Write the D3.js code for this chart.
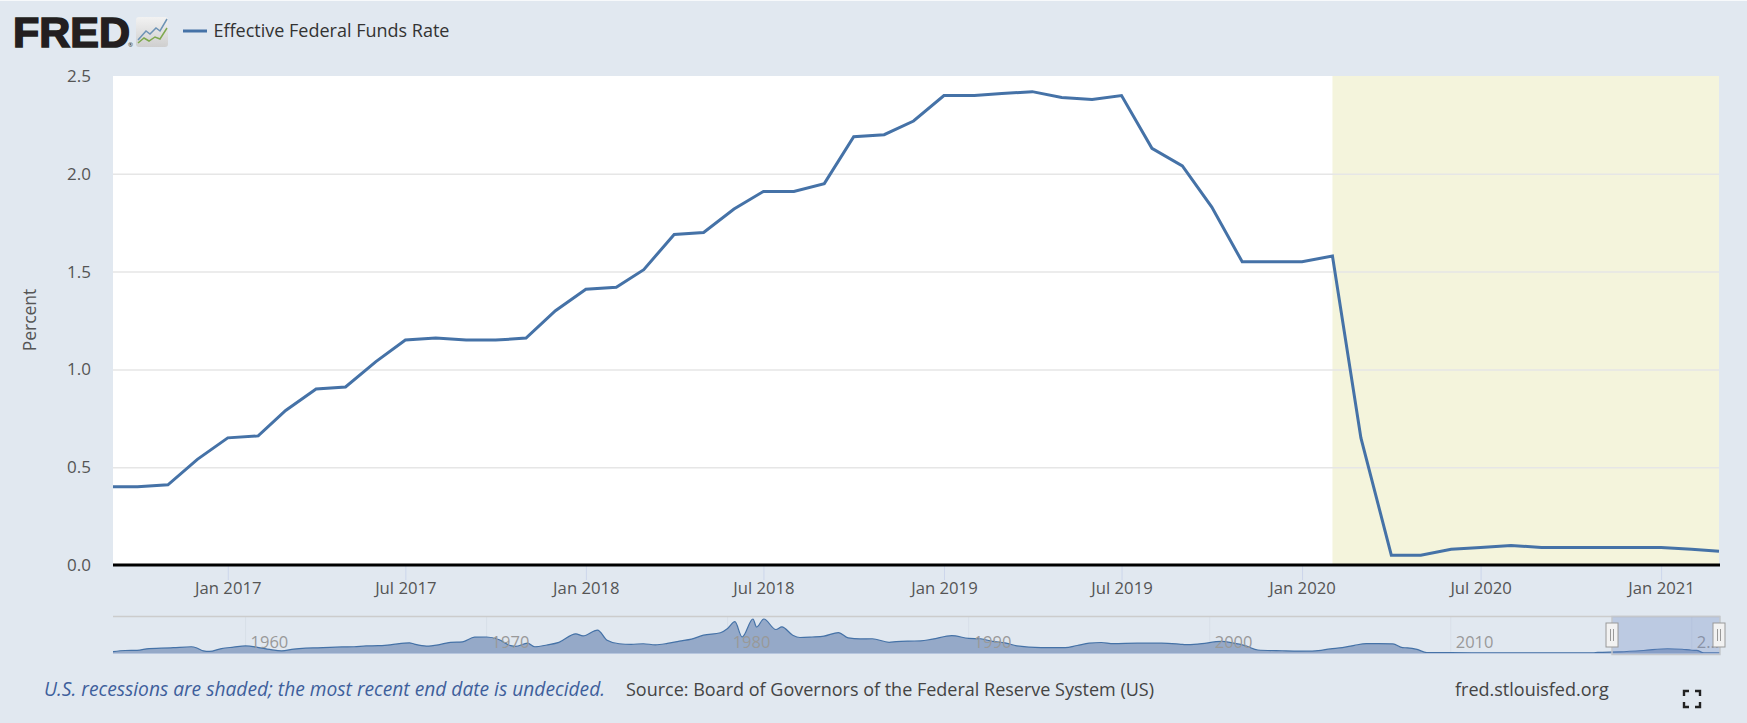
<!DOCTYPE html>
<html>
<head>
<meta charset="utf-8">
<script src="https://cdn.jsdelivr.net/npm/d3@7/dist/d3.min.js"></script>
<style>
html,body{margin:0;padding:0;background:#e1e8f0;}
svg{display:block;font-family:"Open Sans",sans-serif;}
</style>
</head>
<body>
<svg id="chart" width="1747" height="723"></svg>
<script>
const seriesName = "Effective Federal Funds Rate";
const months = ["2016-09","2016-10","2016-11","2016-12",
"2017-01","2017-02","2017-03","2017-04","2017-05","2017-06","2017-07","2017-08","2017-09","2017-10","2017-11","2017-12",
"2018-01","2018-02","2018-03","2018-04","2018-05","2018-06","2018-07","2018-08","2018-09","2018-10","2018-11","2018-12",
"2019-01","2019-02","2019-03","2019-04","2019-05","2019-06","2019-07","2019-08","2019-09","2019-10","2019-11","2019-12",
"2020-01","2020-02","2020-03","2020-04","2020-05","2020-06","2020-07","2020-08","2020-09","2020-10","2020-11","2020-12",
"2021-01","2021-02","2021-03"];
const rates = [0.40,0.40,0.41,0.54,
0.65,0.66,0.79,0.90,0.91,1.04,1.15,1.16,1.15,1.15,1.16,1.30,
1.41,1.42,1.51,1.69,1.70,1.82,1.91,1.91,1.95,2.19,2.20,2.27,
2.40,2.40,2.41,2.42,2.39,2.38,2.40,2.13,2.04,1.83,1.55,1.55,
1.55,1.58,0.65,0.05,0.05,0.08,0.09,0.10,0.09,0.09,0.09,0.09,
0.09,0.08,0.07];
const yTicks = [0,0.5,1.0,1.5,2.0,2.5];
const xTicks = ["2017-01","2017-07","2018-01","2018-07","2019-01","2019-07","2020-01","2020-07","2021-01"];
const viewWindow = ["2016-09-06","2021-03-01"];
const recession = ["2020-02-01","2021-03-01"];

const navYears = [1954.5,1955,1955.5,1956,1956.5,1957,1957.75,1958,1958.25,1958.5,1959,1959.5,1960,1960.5,1961,1961.5,1962,1962.5,1963,1963.5,1964,1964.5,1965,1965.5,1966,1966.8,1967,1967.5,1968,1968.5,1969,1969.5,1970,1970.5,1971,1971.2,1971.7,1972,1972.5,1973,1973.7,1974,1974.6,1975,1975.5,1976,1976.5,1977,1977.5,1978,1978.5,1979,1979.7,1980,1980.3,1980.6,1981.05,1981.2,1981.5,1982,1982.25,1982.7,1983,1983.5,1984,1984.6,1985,1985.5,1986,1986.7,1987,1987.5,1988,1988.5,1989.3,1990,1990.5,1991,1991.5,1992,1993,1994,1994.5,1995,1995.5,1996,1997,1998,1998.8,1999,1999.5,2000.5,2001,2001.5,2002,2003,2003.5,2004,2004.5,2005,2005.5,2006,2006.5,2007,2007.6,2008,2008.2,2008.6,2009,2010,2012,2015.9,2016.1,2017,2018,2019,2019.6,2020,2020.2,2020.5,2021.17];
const navRates = [0.8,1.4,1.5,2.5,2.7,3.0,3.5,2.7,1.2,0.9,2.5,3.3,4.0,3.2,2.0,1.2,2.2,2.7,2.9,3.2,3.4,3.5,4.0,4.1,4.6,5.7,5.0,3.9,4.6,6.0,6.3,8.9,9.0,7.6,4.1,3.7,5.5,3.5,4.5,6.0,10.8,9.6,12.9,7.2,5.2,4.9,5.2,4.6,5.4,6.7,7.8,10.0,11.4,13.8,17.6,9.0,19.1,14.6,19.1,13.2,14.7,10.0,8.7,9.0,9.5,11.5,8.5,7.9,8.0,6.0,6.4,6.7,6.8,7.8,9.8,8.2,8.0,6.5,5.7,4.0,3.0,3.0,4.2,5.5,5.9,5.3,5.5,5.5,4.9,4.7,5.0,6.5,5.5,4.0,1.7,1.25,1.1,1.0,1.3,2.3,3.0,4.3,5.25,5.25,5.1,3.0,2.9,2.0,0.2,0.18,0.12,0.12,0.36,0.65,1.41,2.40,2.1,1.55,1.5,0.08,0.07];
const navGridYears = [1960,1970,1980,1990,2000,2010,2020];
const navLabels = ["1960","1970","1980","1990","2000","2010","2…"];

const recessionNote = "U.S. recessions are shaded; the most recent end date is undecided.";
const sourceNote = "Source: Board of Governors of the Federal Reserve System (US)";
const siteNote = "fred.stlouisfed.org";
const yTitle = "Percent";

const svg = d3.select("#chart");
const P = {l:113,r:1719,t:76,b:565};
const parse = d3.utcParse("%Y-%m");
const parseD = d3.utcParse("%Y-%m-%d");
const x = d3.scaleUtc().domain(viewWindow.map(parseD)).range([P.l,P.r]);
const y = d3.scaleLinear().domain([0,2.5]).range([P.b,P.t]);

svg.append("rect").attr("width",1747).attr("height",723).attr("fill","#e1e8f0");
svg.append("rect").attr("width",1747).attr("height",1).attr("fill","#f7f9fb");

// plot background and recession band
svg.append("rect").attr("x",P.l).attr("y",P.t).attr("width",P.r-P.l).attr("height",P.b-P.t).attr("fill","#fff");
svg.append("rect").attr("x",x(parseD(recession[0]))).attr("y",P.t)
  .attr("width",x(parseD(recession[1]))-x(parseD(recession[0]))).attr("height",P.b-P.t).attr("fill","#f4f4dc");

// y axis with gridlines
const gy = svg.append("g").attr("transform",`translate(${P.l},0)`)
  .call(d3.axisLeft(y).tickValues(yTicks).tickFormat(d3.format(".1f")).tickSize(-(P.r-P.l)).tickPadding(22));
gy.select(".domain").remove();
gy.selectAll("line").attr("stroke","#e6e6e6").attr("stroke-width",1.5);
gy.selectAll("text").attr("fill","#555").style("font-size","17px").style("font-family",'"Open Sans",sans-serif');
gy.selectAll(".tick").filter(d=>d===0||d===2.5).select("line").remove();

svg.append("text").attr("transform","translate(31,320) rotate(-90)").attr("text-anchor","middle")
  .attr("dominant-baseline","middle").attr("fill","#555").style("font-size","17.5px").text(yTitle);

// x axis
const gx = svg.append("g").attr("transform",`translate(0,${P.b})`)
  .call(d3.axisBottom(x).tickValues(xTicks.map(parse)).tickFormat(d3.utcFormat("%b %Y")).tickSize(15).tickPadding(2));
gx.select(".domain").remove();
gx.selectAll("line").attr("stroke","#ccd6eb").attr("stroke-width",1);
gx.selectAll("text").attr("fill","#555").style("font-size","16.7px").style("font-family",'"Open Sans",sans-serif');

// line
svg.append("clipPath").attr("id","plotClip").append("rect")
  .attr("x",P.l).attr("y",P.t-4).attr("width",P.r-P.l+1).attr("height",P.b-P.t+8);
const line = d3.line().x((d,i)=>x(parse(months[i]))).y(d=>y(d));
svg.append("path").datum(rates).attr("d",line).attr("fill","none").attr("stroke","#4572a7")
  .attr("stroke-width",3).attr("stroke-linejoin","miter").attr("clip-path","url(#plotClip)");

// zero baseline
svg.append("line").attr("x1",P.l).attr("x2",P.r+1).attr("y1",y(0)).attr("y2",y(0)).attr("stroke","#000").attr("stroke-width",3);

// navigator
const N = {l:113,r:1720,t:617,b:653};
const nx = d3.scaleLinear().domain([1954.5,2021.17]).range([N.l,N.r]);
const ny = d3.scaleLinear().domain([0,19.1]).range([N.b,619]);
const navG = svg.append("g");
navG.selectAll("line.grid").data(navGridYears).join("line").attr("class","grid")
  .attr("x1",d=>nx(d)).attr("x2",d=>nx(d)).attr("y1",N.t).attr("y2",N.b).attr("stroke","#d8dfe8").attr("stroke-width",1);
const navPts = navYears.map((t,i)=>[t,navRates[i]]);
navG.append("path").datum(navPts)
  .attr("d",d3.area().curve(d3.curveMonotoneX).x(d=>nx(d[0])).y0(N.b).y1(d=>ny(d[1])))
  .attr("fill","#95a9c8");
navG.append("path").datum(navPts)
  .attr("d",d3.line().curve(d3.curveMonotoneX).x(d=>nx(d[0])).y(d=>ny(d[1])))
  .attr("fill","none").attr("stroke","#4572a7").attr("stroke-width",1.2);
navG.append("line").attr("x1",N.l).attr("x2",N.r).attr("y1",N.b+.5).attr("y2",N.b+.5).attr("stroke","#b7c6de").attr("stroke-width",1);
navG.selectAll("text.yr").data(navLabels).join("text").attr("class","yr")
  .attr("x",(d,i)=>nx(navGridYears[i])+5).attr("y",648)
  .attr("fill","#999").style("font-size","16.5px").text(d=>d);
navG.append("line").attr("x1",N.l).attr("x2",N.r).attr("y1",N.t-.5).attr("y2",N.t-.5).attr("stroke","#cccccc").attr("stroke-width",1.5);

// navigator selection
const sx0 = nx(2016.69), sx1 = nx(2021.17);
svg.append("rect").attr("x",sx0).attr("y",N.t).attr("width",sx1-sx0).attr("height",N.b-N.t+1)
  .attr("fill","rgba(102,133,194,0.3)");
svg.append("path").attr("d",`M${sx0},${N.t-.5}H${sx1}V${N.b+1.5}H${sx0}Z`).attr("fill","none").attr("stroke","#c4c7cc").attr("stroke-width",1.5);
[sx0,sx1-1].forEach(cx=>{
  const h = svg.append("g").attr("transform",`translate(${cx},623)`);
  h.append("rect").attr("x",-6).attr("y",0).attr("width",12).attr("height",24).attr("fill","#f2f2f2").attr("stroke","#999").attr("stroke-width",1);
  [-1.5,1.5].forEach(o=>h.append("line").attr("x1",o).attr("x2",o).attr("y1",6).attr("y2",18).attr("stroke","#999").attr("stroke-width",1));
});

// logo
const logo = svg.append("g");
logo.append("text").attr("x",13).attr("y",47).attr("textLength",117).attr("lengthAdjust","spacingAndGlyphs")
  .attr("fill","#231f20").attr("stroke","#231f20").attr("stroke-width",1.6)
  .style("font-family",'"Liberation Sans",sans-serif').style("font-weight",700).style("font-size","42px").text("FRED");
logo.append("text").attr("x",128).attr("y",47).attr("fill","#231f20").style("font-size","6px").text("®");
const grad = svg.append("defs").append("linearGradient").attr("id","logoBg").attr("x1",0).attr("y1",0).attr("x2",0).attr("y2",1);
grad.append("stop").attr("offset","0%").attr("stop-color","#f2f2f2");
grad.append("stop").attr("offset","100%").attr("stop-color","#cfcfcf");
logo.append("rect").attr("x",136).attr("y",17).attr("width",32).attr("height",30).attr("rx",3).attr("fill","url(#logoBg)");
logo.append("path").attr("d","M138,40L146,31L150,34L156,28L160,31L167,19").attr("fill","none").attr("stroke","#6d93b5").attr("stroke-width",1.5);
logo.append("path").attr("d","M138,43L144,38L149,41L155,37L160,39L167,28").attr("fill","none").attr("stroke","#7ea84e").attr("stroke-width",1.5);

// legend
svg.append("line").attr("x1",183).attr("x2",207).attr("y1",31).attr("y2",31).attr("stroke","#4572a7").attr("stroke-width",3);
svg.append("text").attr("x",213.5).attr("y",32).attr("dominant-baseline","middle").attr("fill","#333")
  .style("font-size","18px").style("font-weight",500).text(seriesName);

// footer
svg.append("text").attr("x",44).attr("y",691).attr("dominant-baseline","middle").attr("fill","#3e5f9c")
  .style("font-size","19.2px").style("font-style","italic").text(recessionNote);
svg.append("text").attr("x",626).attr("y",691).attr("dominant-baseline","middle").attr("fill","#444")
  .style("font-size","18px").text(sourceNote);
svg.append("text").attr("x",1455).attr("y",691).attr("dominant-baseline","middle").attr("fill","#444")
  .style("font-size","18px").text(siteNote);

// fullscreen icon
const fs = svg.append("g").attr("fill","none").attr("stroke","#222").attr("stroke-width",2.4);
[[1684,691,1,1],[1700,691,-1,1],[1684,707,1,-1],[1700,707,-1,-1]].forEach(([a,b,sa,sb])=>{
  fs.append("path").attr("d",`M${a},${b+5*sb}V${b}H${a+5*sa}`);
});
</script>
</body>
</html>
